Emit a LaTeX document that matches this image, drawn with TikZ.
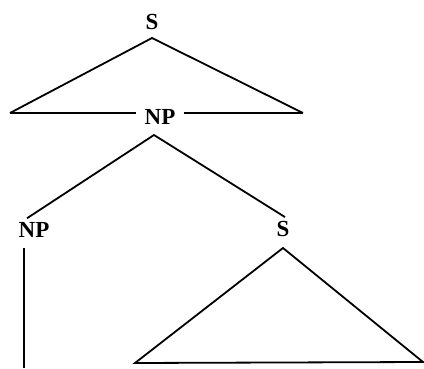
\documentclass[tikz,border=0pt]{standalone}
\usepackage{fontspec}
\setmainfont{Liberation Serif}
\usetikzlibrary{positioning}

\begin{document}
\begin{tikzpicture}[
		x=1pt, y=1pt,
		cat/.style={font=\fontsize{23}{25}\selectfont\bfseries, inner sep=2pt},
		branch/.style={line width=1.8pt, line join=miter, color=black}
		]
		\useasboundingbox (0,0) rectangle (424,368);
		
		% TOP S AND ITS TRIANGLE
		\node[cat] (stop) at (152,346) {S};
		\coordinate (topapex) at (152,330);
		\coordinate (topleft) at (10,255);
		\coordinate (topright) at (303,255);
		\node[cat, inner sep=8pt] (npmid) at (160,251) {NP};
		\draw[branch] (topleft) -- (topapex) -- (topright);
		\draw[branch] (topleft) -- (npmid.west |- topleft);
		\draw[branch] (npmid.east |- topright) -- (topright);
		
		% NP SPLITS INTO NP AND S
		\coordinate (npapex) at (154,233);
		\node[cat] (nplow) at (34,138) {NP};
		\node[cat] (slow) at (283,139) {S};
		\draw[branch] ([shift={(-7,2)}]nplow.north) -- (npapex) -- ([shift={(2,2)}]slow.north);
		
		% NP STEM AND LOWER TRIANGLE
		\coordinate (stemend) at (24,0);
		\draw[branch] (stemend |- 0,120) -- (stemend);
		\coordinate (lowapex) at (283,120);
		\coordinate (lowleft) at (135,5);
		\coordinate (lowright) at (423,6);
		\draw[branch] (lowleft) -- (lowapex) -- (lowright) -- cycle;
		
	\end{tikzpicture}
\end{document}
